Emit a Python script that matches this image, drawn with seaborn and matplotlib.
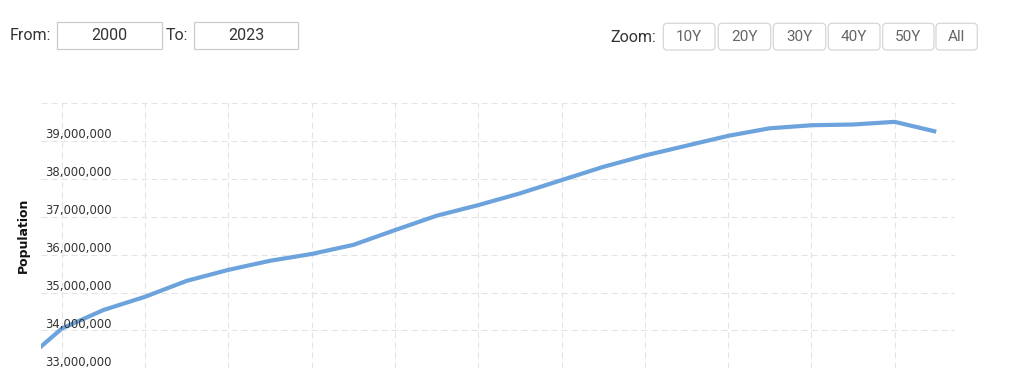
import matplotlib
matplotlib.use("Agg")
import matplotlib.pyplot as plt
import matplotlib.patches as mpatches
from matplotlib.transforms import IdentityTransform
import seaborn as sns
import pandas as pd

# ---- data ----
years = list(range(1999, 2022))
population = [33100000, 34050000, 34540000, 34890000, 35310000, 35600000, 35840000,
              36020000, 36260000, 36650000, 37030000, 37310000, 37620000, 37970000,
              38320000, 38620000, 38880000, 39140000, 39340000, 39420000, 39440000,
              39510000, 39250000]
y_ticks = [33000000, 34000000, 35000000, 36000000, 37000000, 38000000, 39000000, 40000000]
y_labeled = [33000000, 34000000, 35000000, 36000000, 37000000, 38000000, 39000000]
x_ticks = list(range(2000, 2021, 2))
from_year = "2000"
to_year = "2023"
zoom_buttons = ["10Y", "20Y", "30Y", "40Y", "50Y", "All"]

df = pd.DataFrame({"Year": years, "Population": population})

sns.set_style("white")
plt.rcParams["font.family"] = ["DejaVu Sans"]

W, H = 1024, 390
fig = plt.figure(figsize=(W / 100, H / 100), dpi=100)
fig.patch.set_facecolor("white")

# axes area in pixels
left_px, right_px, top_px, bot_px = 41, 955, 103.3, 368.3
ax = fig.add_axes([left_px / W, 1 - bot_px / H, (right_px - left_px) / W, (bot_px - top_px) / H])

sns.lineplot(data=df, x="Year", y="Population", ax=ax, color="#6ca3dc", linewidth=3.0,
             solid_capstyle="butt", solid_joinstyle="round")

ax.set_xlim(1999.5, 2021.45)
ax.set_ylim(33000000, 40000000)
ax.set_xticks(x_ticks)
ax.set_yticks(y_ticks)
ax.grid(True, color="#e3e3e3", linewidth=0.75, linestyle=(0, (5.8, 3.8)))
ax.set_axisbelow(True)
for s in ax.spines.values():
    s.set_visible(False)
ax.tick_params(left=False, bottom=False, labelleft=False, labelbottom=False)
ax.set_xlabel("")

# y labels inside the plot, slightly above the gridlines
for v in y_labeled:
    ax.annotate(f"{v:,}", xy=(0, v), xycoords=("axes fraction", "data"),
                xytext=(3.2, 4.5), textcoords="offset points",
                ha="left", va="center", fontsize=8.4, color="#333333")

ax.set_ylabel("Population", fontsize=9, fontweight="bold", color="#111111")
ax.yaxis.set_label_coords(-18 / (right_px - left_px), 0.5)
ax.yaxis.label.set_va("center")

# ---- top controls (UI decoration) ----
ui_font = ["Roboto", "DejaVu Sans"]

def px_rect(x0, y0, x1, y1, rounded=False, ec="#cccccc"):
    if rounded:
        p = mpatches.FancyBboxPatch((x0, H - y1), x1 - x0, y1 - y0,
                                    boxstyle="round,pad=0,rounding_size=4",
                                    transform=IdentityTransform(), facecolor="white",
                                    edgecolor=ec, linewidth=0.9)
    else:
        p = mpatches.Rectangle((x0, H - y1), x1 - x0, y1 - y0,
                               transform=IdentityTransform(), facecolor="white",
                               edgecolor=ec, linewidth=0.9)
    fig.patches.append(p)

def px_text(x, y, s, ha="left", color="#333333", size=11.5):
    fig.text(x / W, 1 - y / H, s, ha=ha, va="center", fontsize=size,
             color=color, family=ui_font)

px_text(10, 36, "From:")
px_rect(57.3, 22.3, 161.7, 49.3)
px_text(109.5, 36, from_year, ha="center")
px_text(166, 36, "To:")
px_rect(193.7, 22.3, 298.3, 49.3)
px_text(246, 36, to_year, ha="center")

px_text(610, 37, "Zoom:")
btn_x = [(663.3, 715), (718.3, 770.7), (773.3, 825.7), (828.3, 880), (882.7, 934), (936, 977.3)]
for (x0, x1), lab in zip(btn_x, zoom_buttons):
    px_rect(x0, 23.3, x1, 50, rounded=True, ec="#d6d6d6")
    px_text((x0 + x1) / 2, 37, lab, ha="center", color="#666666", size=11)

fig.savefig("out.png", dpi=100)
